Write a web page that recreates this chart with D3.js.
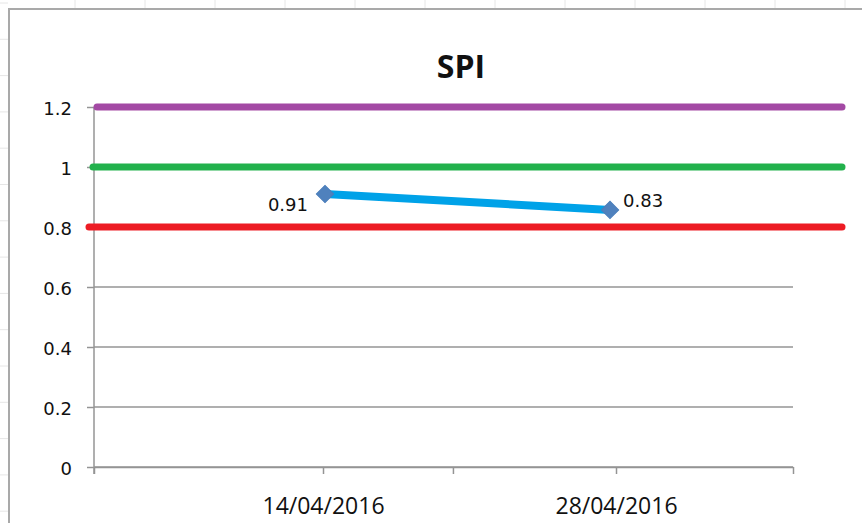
<!DOCTYPE html>
<html>
<head>
<meta charset="utf-8">
<script src="https://cdn.jsdelivr.net/npm/d3@7"></script>
<style>
  body { margin: 0; background: #fff; }
  svg { display: block; }
</style>
</head>
<body>
<div id="chart"></div>
<script>
const w = 862;
const h = 523;
const parseTime = d3.timeParse("%Y-%m-%dT%H:%M");

// data
const xDomain = ["2016-04-03T01:23", "2016-05-06T10:58"];
const tickDates = ["2016-04-14T00:00", "2016-04-20T05:00", "2016-04-28T00:00"];
const tickLabels = ["14/04/2016", "", "28/04/2016"];
const pointDates = ["2016-04-14T02:18", "2016-04-27T17:07"];
const spiValues = [0.91, 0.857];
const spiLabels = ["0.91", "0.83"];
const thresholdValues = [1.2, 1, 0.8];
const thresholdColors = ["#A349A4", "#22B14C", "#ED1C24"];
const yTicks = [0, 0.2, 0.4, 0.6, 0.8, 1, 1.2];

const plot = {left: 94, right: 793, top: 107, bottom: 467};

const svg = d3.select("#chart")
    .append("svg")
    .attr("width", w)
    .attr("height", h);

// spreadsheet cells behind the chart
svg.append("g")
    .selectAll("line")
    .data(d3.range(75, w, 70))
    .enter()
    .append("line")
    .attr("x1", d => d).attr("x2", d => d)
    .attr("y1", 0).attr("y2", 8)
    .attr("stroke", "#e6e6e6");
svg.append("g")
    .selectAll("line")
    .data(d3.range(3, h, 36.3))
    .enter()
    .append("line")
    .attr("x1", 0).attr("x2", 8)
    .attr("y1", d => d).attr("y2", d => d)
    .attr("stroke", "#e6e6e6");

// chart frame
svg.append("rect")
    .attr("x", 9).attr("y", 9)
    .attr("width", 1000).attr("height", 1000)
    .attr("fill", "#fff")
    .attr("stroke", "#a9a9a9")
    .attr("stroke-width", 2);

//Scales
const xScale = d3.scaleTime()
    .domain(xDomain.map(parseTime))
    .range([plot.left, plot.right]);

const yScale = d3.scaleLinear()
    .domain([0, 1.2])
    .range([plot.bottom, plot.top]);

//Gridlines
svg.append("g")
    .selectAll("line")
    .data(yTicks)
    .enter()
    .append("line")
    .attr("x1", plot.left)
    .attr("x2", plot.right)
    .attr("y1", d => yScale(d))
    .attr("y2", d => yScale(d))
    .attr("stroke", "#949494")
    .attr("stroke-width", 1.5);

//Y Axis
const yAxis = d3.axisLeft(yScale)
    .tickValues(yTicks)
    .tickSize(7)
    .tickPadding(15)
    .tickFormat(d => String(d));

const gy = svg.append("g")
    .attr("transform", `translate(${plot.left}, 0)`)
    .call(yAxis);
gy.select(".domain").remove();
gy.append("line")
    .attr("x1", 0).attr("x2", 0)
    .attr("y1", plot.top).attr("y2", plot.bottom + 7)
    .attr("stroke", "#949494")
    .attr("stroke-width", 1.5);
gy.selectAll(".tick line").attr("stroke", "#949494").attr("stroke-width", 1.5);
gy.selectAll("text")
    .style("font-family", "'DejaVu Sans', sans-serif")
    .style("font-size", "18px")
    .attr("fill", "#111")
    .attr("dy", "0.42em");

//X Axis
const xTickValues = [xScale.domain()[0], ...tickDates.map(parseTime), xScale.domain()[1]];
const xLabelFor = d => {
    const i = tickDates.findIndex(t => +parseTime(t) === +d);
    return i >= 0 ? tickLabels[i] : "";
};
const xAxis = d3.axisBottom(xScale)
    .tickValues(xTickValues)
    .tickSize(7)
    .tickSizeOuter(0)
    .tickFormat(xLabelFor);

const gx = svg.append("g")
    .attr("transform", `translate(0, ${plot.bottom})`)
    .call(xAxis);
gx.select(".domain").attr("stroke", "#949494").attr("stroke-width", 1.5);
gx.selectAll(".tick line").attr("stroke", "#949494").attr("stroke-width", 1.5);
gx.selectAll("text")
    .style("font-family", "'Open Sans', sans-serif")
    .style("font-size", "23px")
    .attr("fill", "#111")
    .attr("y", 47)
    .attr("dy", "0");

//Threshold lines
svg.append("g")
    .selectAll("line")
    .data(thresholdValues)
    .enter()
    .append("line")
    .attr("x1", (d, i) => plot.left + 3 - i * 4)
    .attr("x2", plot.right + 49)
    .attr("y1", d => yScale(d))
    .attr("y2", d => yScale(d))
    .attr("stroke", (d, i) => thresholdColors[i])
    .attr("stroke-width", 7)
    .attr("stroke-linecap", "round");

//SPI series
const points = pointDates.map((d, i) => ({date: parseTime(d), value: spiValues[i], label: spiLabels[i]}));

const line = d3.line()
    .x(d => xScale(d.date))
    .y(d => yScale(d.value));

svg.append("path")
    .datum(points)
    .attr("d", line)
    .attr("fill", "none")
    .attr("stroke", "#00A2E8")
    .attr("stroke-width", 8);

svg.selectAll(".marker")
    .data(points)
    .enter()
    .append("path")
    .attr("class", "marker")
    .attr("d", d3.symbol().type(d3.symbolSquare).size(150))
    .attr("transform", d => `translate(${xScale(d.date)}, ${yScale(d.value)}) rotate(45)`)
    .attr("fill", "#4F81BD")
    .attr("stroke", "#4A7EBB")
    .attr("stroke-width", 1);

//Data labels
svg.selectAll(".dlabel")
    .data(points)
    .enter()
    .append("text")
    .attr("class", "dlabel")
    .attr("x", (d, i) => xScale(d.date) + (i === 0 ? -17 : 13))
    .attr("y", (d, i) => yScale(d.value) + (i === 0 ? 17 : -3))
    .attr("text-anchor", (d, i) => i === 0 ? "end" : "start")
    .style("font-family", "'DejaVu Sans', sans-serif")
    .style("font-size", "18px")
    .attr("fill", "#111")
    .text(d => d.label);

//Title
svg.append("text")
    .attr("x", 461)
    .attr("y", 78)
    .attr("text-anchor", "middle")
    .style("font-family", "'Open Sans', sans-serif")
    .style("font-weight", "bold")
    .style("font-size", "32px")
    .attr("fill", "#111")
    .text("SPI");
</script>
</body>
</html>
